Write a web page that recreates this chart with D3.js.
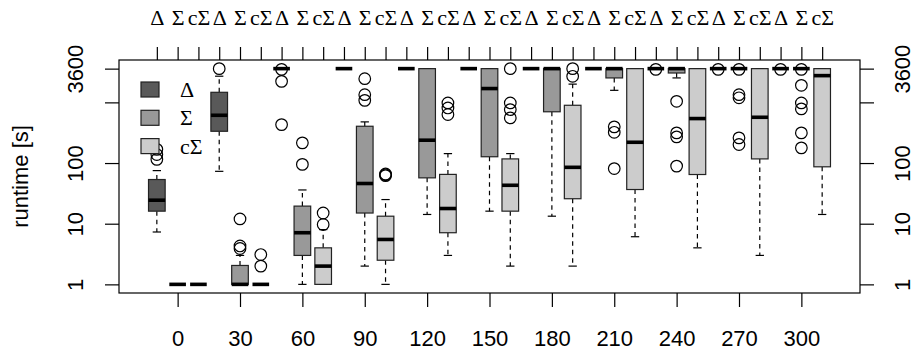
<!DOCTYPE html>
<html>
<head>
<meta charset="utf-8">
<style>
  body { margin: 0; background: #fff; }
  .sans { font-family: "Liberation Sans", Arial, sans-serif; }
  .serif { font-family: "Liberation Serif", "Times New Roman", serif; }
</style>
</head>
<body>
<svg width="915" height="350"></svg>
<script src="https://d3js.org/d3.v7.min.js"></script>
<script>
    // groups on the x axis and the three methods inside each group
    var groups = [0, 30, 60, 90, 120, 150, 180, 210, 240, 270, 300];
    var methods = ["Δ", "Σ", "cΣ"];
    var fills = ["#595959", "#999999", "#cccccc"];

    // [lower whisker, q1, median, q3, upper whisker] per group
    var deltaStats = [
        [7.3, 16.1, 24.4, 53.5, 75],
        [73, 334, 613, 1466, 2700],
        [3600, 3600, 3600, 3600, 3600],
        [3600, 3600, 3600, 3600, 3600],
        [3600, 3600, 3600, 3600, 3600],
        [3600, 3600, 3600, 3600, 3600],
        [3600, 3600, 3600, 3600, 3600],
        [3600, 3600, 3600, 3600, 3600],
        [3600, 3600, 3600, 3600, 3600],
        [3600, 3600, 3600, 3600, 3600],
        [3600, 3600, 3600, 3600, 3600]
    ];
    var sigmaStats = [
        [1, 1, 1, 1, 1],
        [1, 1, 1, 2.05, 3.0],
        [1, 3.0, 7.1, 19.5, 36],
        [2.0, 15, 46, 404, 477],
        [14.2, 57, 238, 3600, 3600],
        [16.1, 127, 1690, 3600, 3600],
        [13.3, 700, 3600, 3600, 3600],
        [1580, 2530, 3600, 3600, 3600],
        [2530, 3050, 3600, 3600, 3600],
        [3600, 3600, 3600, 3600, 3600],
        [3600, 3600, 3600, 3600, 3600]
    ];
    var cSigmaStats = [
        [1, 1, 1, 1, 1],
        [1, 1, 1, 1, 1],
        [1, 1, 2.0, 4.0, 8.0],
        [1, 2.5, 5.5, 13.3, 25],
        [3.0, 7.1, 17.8, 65, 143],
        [2.0, 16.1, 43, 117, 143],
        [2.0, 25.8, 85, 896, 2000],
        [6.1, 36.6, 220, 3600, 3600],
        [4.0, 64.7, 541, 3600, 3600],
        [3.0, 117, 568, 3600, 3600],
        [14.2, 86.7, 2760, 3600, 3600]
    ];

    // outliers per group
    var deltaOut = [
        [115, 138, 168], [3600], [3500, 2220, 430], [], [], [], [], [],
        [3500], [3500], [3500]
    ];
    var sigmaOut = [
        [], [3.9, 4.3, 12], [95, 215], [1080, 1340, 2460], [], [], [],
        [81, 321, 395], [89, 270, 314, 1040], [202, 260, 1190, 1340, 3500],
        [178, 314, 781, 980, 1910, 3500]
    ];
    var cSigmaOut = [
        [], [2.0, 3.1], [9.7, 15], [62, 64, 66], [630, 810, 980],
        [555, 760, 980, 3600], [2690, 3600], [], [], [], []
    ];

    var yTicks = [1, 10, 100, 1000, 3600];

    var stats = [deltaStats, sigmaStats, cSigmaStats],
        outs = [deltaOut, sigmaOut, cSigmaOut];

    var svg = d3.select("svg");
    var pL = 119, pR = 860, pT = 60, pB = 293;

    var n = groups.length * methods.length;
    var ext = 0.04 * n;
    var x = d3.scaleLinear()
        .domain([0.5 - ext, n + 0.5 + ext])
        .range([pL, pR]);

    var hi = Math.log10(3600),
        pad = 0.04 * hi;
    var y = d3.scaleLog()
        .domain([Math.pow(10, -pad), Math.pow(10, hi + pad)])
        .range([pB, pT]);

    var boxes = [];
    groups.forEach(function(g, gi) {
        methods.forEach(function(m, mi) {
            var s = stats[mi][gi];
            boxes.push({
                pos: gi * 3 + mi + 1,
                fill: fills[mi],
                lo: s[0], q1: s[1], med: s[2], q3: s[3], hi: s[4],
                out: outs[mi][gi]
            });
        });
    });

    var bw = 0.8 * (x(1) - x(0)),
        sw = bw / 2;

    var bx = svg.append("g").selectAll("g")
        .data(boxes)
        .enter().append("g")
        .attr("transform", function(d) { return "translate(" + x(d.pos) + ",0)"; });

    // whiskers
    bx.append("line")
        .attr("y1", function(d) { return y(d.q3); })
        .attr("y2", function(d) { return y(d.hi); })
        .attr("stroke", "#000").attr("stroke-width", 1.2).attr("stroke-dasharray", "4.5,4");
    bx.append("line")
        .attr("y1", function(d) { return y(d.q1); })
        .attr("y2", function(d) { return y(d.lo); })
        .attr("stroke", "#000").attr("stroke-width", 1.2).attr("stroke-dasharray", "4.5,4");
    bx.append("line")
        .attr("x1", -sw / 2).attr("x2", sw / 2)
        .attr("y1", function(d) { return y(d.hi); })
        .attr("y2", function(d) { return y(d.hi); })
        .attr("stroke", "#000").attr("stroke-width", 1.2);
    bx.append("line")
        .attr("x1", -sw / 2).attr("x2", sw / 2)
        .attr("y1", function(d) { return y(d.lo); })
        .attr("y2", function(d) { return y(d.lo); })
        .attr("stroke", "#000").attr("stroke-width", 1.2);

    bx.append("rect")
        .attr("x", -bw / 2).attr("width", bw)
        .attr("y", function(d) { return y(d.q3); })
        .attr("height", function(d) { return y(d.q1) - y(d.q3); })
        .attr("fill", function(d) { return d.fill; })
        .attr("stroke", "#222").attr("stroke-width", 1.2);

    bx.append("line")
        .attr("x1", -bw / 2).attr("x2", bw / 2)
        .attr("y1", function(d) { return y(d.med); })
        .attr("y2", function(d) { return y(d.med); })
        .attr("stroke", "#000").attr("stroke-width", 3.6);

    bx.selectAll("circle")
        .data(function(d) { return d.out; })
        .enter().append("circle")
        .attr("cy", function(v) { return y(v); })
        .attr("r", 5.8)
        .attr("fill", "none")
        .attr("stroke", "#000").attr("stroke-width", 1.2);

    // frame
    svg.append("rect")
        .attr("x", pL).attr("y", pT)
        .attr("width", pR - pL).attr("height", pB - pT)
        .attr("fill", "none").attr("stroke", "#000").attr("stroke-width", 1.2);

    // axes
    var yFmt = function(d) { return d === 1000 ? "" : d; };

    var ay = svg.append("g")
        .attr("transform", "translate(" + pL + ",0)")
        .call(d3.axisLeft(y).tickValues(yTicks).tickFormat(yFmt).tickSize(14).tickSizeOuter(0));
    ay.selectAll("text")
        .attr("transform", "rotate(-90)")
        .attr("x", 0).attr("y", -36).attr("dy", 0)
        .attr("text-anchor", "middle");

    var ay2 = svg.append("g")
        .attr("transform", "translate(" + pR + ",0)")
        .call(d3.axisRight(y).tickValues(yTicks).tickFormat(yFmt).tickSize(14).tickSizeOuter(0));
    ay2.selectAll("text")
        .attr("transform", "rotate(-90)")
        .attr("x", 0).attr("y", 50).attr("dy", 0)
        .attr("text-anchor", "middle");

    var ax = svg.append("g")
        .attr("transform", "translate(0," + pB + ")")
        .call(d3.axisBottom(x)
            .tickValues(groups.map(function(g, i) { return i * 3 + 2; }))
            .tickFormat(function(d) { return groups[(d - 2) / 3]; })
            .tickSize(14).tickSizeOuter(0));
    ax.selectAll("text").attr("y", 53).attr("dy", 0);

    var at = svg.append("g")
        .attr("transform", "translate(0," + pT + ")")
        .call(d3.axisTop(x)
            .tickValues(d3.range(1, n + 1))
            .tickFormat(function(d) { return methods[(d - 1) % 3]; })
            .tickSize(13).tickSizeOuter(0));
    at.selectAll("text").attr("y", -35).attr("dy", 0).attr("class", "serif");

    [ay, ay2, ax].forEach(function(a) {
        a.attr("class", "sans").attr("font-family", null).attr("font-size", 22);
    });
    at.attr("font-family", null).attr("font-size", 22);
    svg.selectAll(".domain").remove();
    svg.selectAll(".tick line").attr("stroke", "#000").attr("stroke-width", 1.2);
    svg.selectAll(".tick text").attr("fill", "#000");

    svg.append("text")
        .attr("class", "sans")
        .attr("transform", "translate(28," + (pT + pB) / 2 + ") rotate(-90)")
        .attr("text-anchor", "middle")
        .attr("font-size", 22)
        .text("runtime [s]");

    // legend
    var lg = svg.append("g").selectAll("g")
        .data(methods)
        .enter().append("g")
        .attr("transform", function(d, i) { return "translate(141," + (82 + i * 28.3) + ")"; });
    lg.append("rect")
        .attr("width", 18).attr("height", 15)
        .attr("fill", function(d, i) { return fills[i]; })
        .attr("stroke", "#222").attr("stroke-width", 1.2);
    lg.append("text")
        .attr("class", "serif")
        .attr("x", 39).attr("y", 15)
        .attr("font-size", 22)
        .text(function(d) { return d; });
</script>
</body>
</html>
